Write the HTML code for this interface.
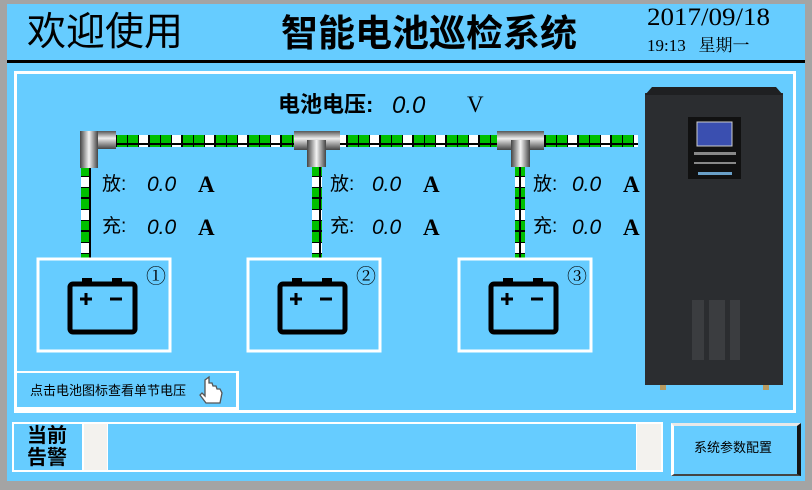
<!DOCTYPE html>
<html><head><meta charset="utf-8"><style>
body{margin:0;width:812px;height:490px;background:#a4a4a4;position:relative;overflow:hidden;font-family:"Liberation Sans","Noto Sans CJK SC",sans-serif}
.a{position:absolute}
.cj{font-family:"Liberation Sans","Noto Sans CJK SC",sans-serif;color:#000;white-space:nowrap}
.se{font-family:"Liberation Serif","Noto Serif CJK SC",serif;color:#000;white-space:nowrap}
.it{font-family:"Liberation Sans",sans-serif;font-style:italic;white-space:nowrap}
</style></head><body>
<div class="a" style="left:7px;top:4px;width:798px;height:477px;background:#66ccff"></div>
<div class="a" style="left:7px;top:60px;width:798px;height:3px;background:#000"></div>
<div class="a cj" style="left:27px;top:11px;font-size:39px;line-height:44px">欢迎使用</div>
<div class="a cj" style="left:281px;top:13px;font-size:37px;line-height:42px;font-weight:bold">智能电池巡检系统</div>
<div class="a se" style="left:647px;top:4px;font-size:25px;line-height:28px;transform:scaleX(1.08);transform-origin:left">2017/09/18</div>
<div class="a se" style="left:647px;top:36px;font-size:17px;line-height:20px">19:13&nbsp;&nbsp; 星期一</div>
<div class="a" style="left:14px;top:71px;width:776px;height:336px;border:3px solid #fff"></div>
<div class="a" style="left:14px;top:371px;width:219px;height:34px;border:3px solid #fff;border-top-width:2px"></div>
<div class="a cj" style="left:30px;top:383px;font-size:13px;line-height:16px">点击电池图标查看单节电压</div>
<div class="a cj" style="left:278px;top:92px;font-size:22px;line-height:26px;font-weight:bold">电池电压:</div>
<div class="a it" style="left:392px;top:92px;font-size:24px;line-height:27px">0.0</div>
<div class="a se" style="left:467px;top:92px;font-size:23px;line-height:26px">V</div>
<svg class="a" style="left:0;top:0" width="812" height="490">
<defs>
<pattern id="ph" x="116" y="0" width="33" height="12" patternUnits="userSpaceOnUse"><rect width="33" height="12" fill="#000"/><rect x="1" y="1" width="10" height="10" fill="#00c000"/><rect x="12" y="1" width="10" height="10" fill="#00c000"/><rect x="23" y="1" width="9" height="10" fill="#fff"/></pattern>
<pattern id="pv" x="0" y="165" width="10" height="33" patternUnits="userSpaceOnUse"><rect width="10" height="33" fill="#000"/><rect x="1" y="1" width="8" height="10" fill="#00c000"/><rect x="1" y="12" width="8" height="10" fill="#fff"/><rect x="1" y="23" width="8" height="9" fill="#00c000"/></pattern>
<linearGradient id="gh" x1="0" y1="0" x2="0" y2="1"><stop offset="0" stop-color="#555"/><stop offset=".4" stop-color="#eee"/><stop offset="1" stop-color="#444"/></linearGradient>
<linearGradient id="gv" x1="0" y1="0" x2="1" y2="0"><stop offset="0" stop-color="#444"/><stop offset=".5" stop-color="#f4f4f4"/><stop offset="1" stop-color="#444"/></linearGradient>
</defs>
<rect x="114" y="135" width="524" height="12" fill="url(#ph)"/>
<rect x="81" y="165" width="10" height="94" fill="url(#pv)"/>
<rect x="312" y="165" width="10" height="94" fill="url(#pv)"/>
<rect x="515" y="165" width="10" height="94" fill="url(#pv)"/>
<rect x="80" y="131" width="36" height="18" fill="url(#gh)"/>
<rect x="80" y="131" width="18" height="37" fill="url(#gv)"/>
<rect x="294" y="131" width="46" height="19" fill="url(#gh)"/>
<rect x="307" y="140" width="19" height="27" fill="url(#gv)"/>
<rect x="497" y="131" width="47" height="19" fill="url(#gh)"/>
<rect x="511" y="140" width="19" height="27" fill="url(#gv)"/>
<g id="bat">
<rect x="38" y="259" width="132" height="92" fill="none" stroke="#fff" stroke-width="3"/>
<rect x="82" y="278" width="10" height="6" fill="#000"/><rect x="112" y="278" width="10" height="6" fill="#000"/>
<rect x="70" y="284" width="65" height="48" rx="3" fill="none" stroke="#000" stroke-width="5"/>
<path d="M80 299h12M86 293v12M110 299h12" stroke="#000" stroke-width="3"/>
</g>
<use href="#bat" x="210"/><use href="#bat" x="421"/>
<rect x="645" y="93" width="138" height="292" fill="#2b2d30"/>
<path d="M652 87h124l7 8h-138z" fill="#1f2022"/>
<rect x="688" y="117" width="53" height="62" fill="#111"/>
<rect x="697" y="122" width="35" height="24" fill="#3a4fb0" stroke="#ccc"/>
<rect x="694" y="152" width="42" height="3" fill="#888"/><rect x="694" y="162" width="42" height="2" fill="#888"/><rect x="698" y="172" width="34" height="3" fill="#6aa0c8"/>
<g fill="#3b3d40"><rect x="692" y="300" width="12" height="60"/><rect x="709" y="300" width="16" height="60"/><rect x="730" y="300" width="10" height="60"/></g>
<rect x="660" y="385" width="6" height="5" fill="#b89a60"/><rect x="763" y="385" width="6" height="5" fill="#b89a60"/>
<path d="M205 380v16l-3-3-2 2 6 8h14l2-10-2-4-3 0-1-3-3 0-1-3-3 0v-6z" fill="#fff" stroke="#555" stroke-width="1.3"/>
</svg>
<div class="a se" style="left:146px;top:260px;font-size:20px">①</div>
<div class="a se" style="left:356px;top:260px;font-size:20px">②</div>
<div class="a se" style="left:567px;top:260px;font-size:20px">③</div>
<div class="a cj" style="left:102px;top:174px;font-size:19px;line-height:22px">放:</div>
<div class="a cj" style="left:102px;top:216px;font-size:19px;line-height:22px">充:</div>
<div class="a it" style="left:147px;top:173px;font-size:21px;line-height:24px">0.0</div>
<div class="a it" style="left:147px;top:216px;font-size:21px;line-height:24px">0.0</div>
<div class="a se" style="left:198px;top:172px;font-size:23px;line-height:26px;font-weight:bold">A</div>
<div class="a se" style="left:198px;top:215px;font-size:23px;line-height:26px;font-weight:bold">A</div>
<div class="a cj" style="left:330px;top:174px;font-size:19px;line-height:22px">放:</div>
<div class="a cj" style="left:330px;top:216px;font-size:19px;line-height:22px">充:</div>
<div class="a it" style="left:372px;top:173px;font-size:21px;line-height:24px">0.0</div>
<div class="a it" style="left:372px;top:216px;font-size:21px;line-height:24px">0.0</div>
<div class="a se" style="left:423px;top:172px;font-size:23px;line-height:26px;font-weight:bold">A</div>
<div class="a se" style="left:423px;top:215px;font-size:23px;line-height:26px;font-weight:bold">A</div>
<div class="a cj" style="left:533px;top:174px;font-size:19px;line-height:22px">放:</div>
<div class="a cj" style="left:533px;top:216px;font-size:19px;line-height:22px">充:</div>
<div class="a it" style="left:572px;top:173px;font-size:21px;line-height:24px">0.0</div>
<div class="a it" style="left:572px;top:216px;font-size:21px;line-height:24px">0.0</div>
<div class="a se" style="left:623px;top:172px;font-size:23px;line-height:26px;font-weight:bold">A</div>
<div class="a se" style="left:623px;top:215px;font-size:23px;line-height:26px;font-weight:bold">A</div>
<div class="a" style="left:12px;top:422px;width:651px;height:50px;background:#fff"></div>
<div class="a" style="left:14px;top:424px;width:68px;height:46px;background:#66ccff"></div>
<div class="a" style="left:84px;top:424px;width:23px;height:46px;background:#f3f2ee"></div>
<div class="a" style="left:108px;top:424px;width:528px;height:46px;background:#66ccff"></div>
<div class="a" style="left:637px;top:424px;width:24px;height:46px;background:#f3f2ee"></div>
<div class="a cj" style="left:27px;top:425px;font-size:20px;line-height:22px;font-weight:bold">当前<br>告警</div>
<div class="a" style="left:671px;top:423px;width:123px;height:48px;background:#66ccff;border-left:3px solid #fff;border-top:3px solid #e8e8e8;border-right:4px solid #151515;border-bottom:2px solid #444"></div>
<div class="a cj" style="left:694px;top:440px;font-size:13px;line-height:16px">系统参数配置</div>
</body></html>
